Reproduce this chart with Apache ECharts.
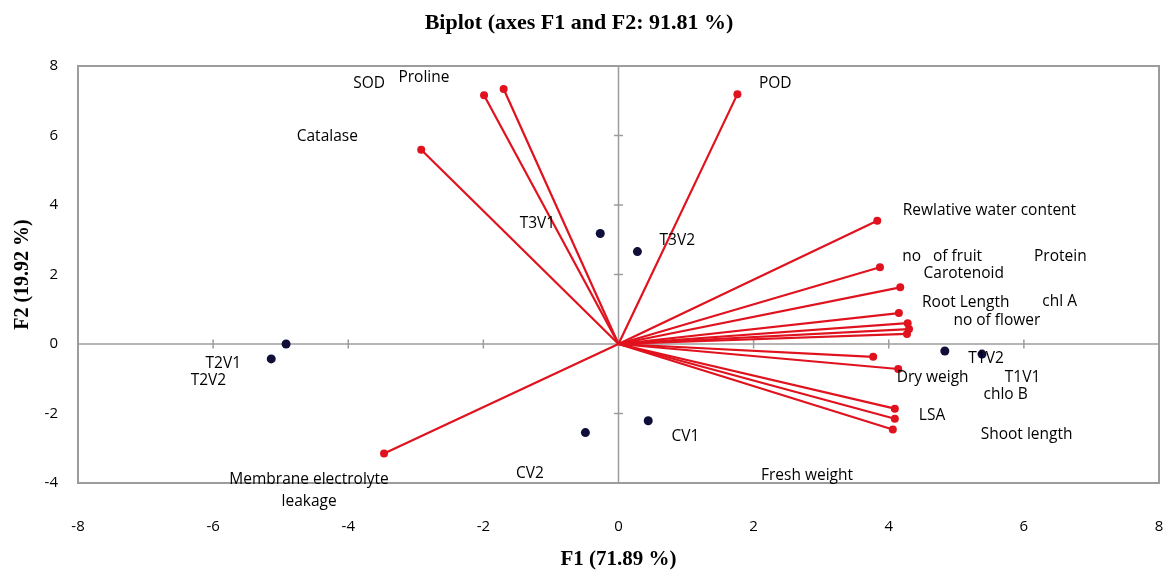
<!DOCTYPE html>
<html>
<head>
<meta charset="utf-8">
<script src="https://cdn.jsdelivr.net/npm/echarts@6/dist/echarts.min.js"></script>
<style>html,body{margin:0;padding:0;background:#fff;}#c{width:1173px;height:575px;}</style>
</head>
<body>
<div id="c"></div>
<script>
// Variable vectors (loadings), F1 / F2
const varNames = ["SOD","Proline","POD","Catalase","Membrane electrolyte leakage",
  "Rewlative water content","no of fruit","Carotenoid","Root Length","Protein","chl A","no of flower",
  "chlo B","Dry weigh","LSA","Shoot length","Fresh weight"];
const varF1 = [-1.99,-1.70,1.76,-2.92,-3.47, 3.83,3.87,4.17,4.15,4.28,4.30,4.27, 3.77,4.14,4.09,4.09,4.06];
const varF2 = [ 7.16, 7.34,7.19, 5.59,-3.15, 3.55,2.21,1.63,0.89,0.60,0.43,0.29,-0.37,-0.72,-1.86,-2.15,-2.46];

// Observations
const obsNames = ["T2V1","T2V2","T3V1","T3V2","CV2","CV1","T1V2","T1V1"];
const obsF1 = [-4.92,-5.14,-0.27,0.28,-0.49,0.44,4.83,5.38];
const obsF2 = [ 0.00,-0.43, 3.18,2.66,-2.55,-2.21,-0.20,-0.29];

// Text annotations as placed in the chart (data coordinates)
const labelText = ["SOD","Proline","Catalase","POD","T3V1","T3V2","Rewlative water content",
  "no   of fruit","Protein","Carotenoid","Root Length","chl A","no of flower","T1V2","Dry weigh",
  "T1V1","chlo B","LSA","Shoot length","Fresh weight","CV1","CV2","Membrane electrolyte\nleakage","T2V1","T2V2"];
const labelX = [-3.69,-2.88,-4.31,2.32,-1.20,0.87,5.49, 4.79,6.54,5.11,5.14,6.53,5.60,5.44,4.65,
  5.98,5.73,4.64,6.04,2.79,0.99,-1.31,-4.58,-5.85,-6.07];
const labelY = [7.48,7.68,5.96,7.48,3.47,2.98,3.84, 2.52,2.52,2.03,1.20,1.23,0.66,-0.43,-0.97,
  -0.97,-1.46,-2.06,-2.61,-3.78,-2.66,-3.72,-4.21,-0.57,-1.06];

// Axis ticks
const xTicks = [-8,-6,-4,-2,0,2,4,6,8];
const yTicks = [-4,-2,0,2,4,6,8];
const xCrossTicks = [-6,-4,-2,2,4,6];
const yCrossTicks = [-2,2,4,6];

const chart = echarts.init(document.getElementById('c'), null, {renderer:'canvas'});
const sans = '"Open Sans", "Liberation Sans", sans-serif';
const serif = '"Liberation Serif", "DejaVu Serif", serif';
const gray = '#9c9c9c';
const red = '#e0121e';

const series = [];
// centre axes
series.push({type:'line', data:[[xTicks[0],0],[xTicks[xTicks.length-1],0]], symbol:'none', silent:true,
  lineStyle:{color:gray, width:1.5}, z:1});
series.push({type:'line', data:[[0,yTicks[0]],[0,yTicks[yTicks.length-1]]], symbol:'none', silent:true,
  lineStyle:{color:gray, width:1.5}, z:1});
series.push({type:'scatter', data:xCrossTicks.map(v=>[v,0]), symbol:'rect', symbolSize:[1.5,9],
  itemStyle:{color:gray, opacity:1}, silent:true, z:1});
series.push({type:'scatter', data:yCrossTicks.map(v=>[0,v]), symbol:'rect', symbolSize:[9,1.5],
  itemStyle:{color:gray, opacity:1}, silent:true, z:1});
// vectors
varNames.forEach((n,i)=>{
  series.push({type:'line', name:n, data:[[0,0],[varF1[i],varF2[i]]], symbol:'none', silent:true,
    lineStyle:{color:red, width:2.2}, z:3});
});
series.push({type:'scatter', data:varNames.map((n,i)=>[varF1[i],varF2[i]]), symbolSize:8,
  itemStyle:{color:red, opacity:1}, z:4});
// observations
series.push({type:'scatter', data:obsNames.map((n,i)=>[obsF1[i],obsF2[i]]), symbolSize:9,
  itemStyle:{color:'#0f0f3a', opacity:1}, z:5});
// text labels
series.push({type:'scatter', clip:false, symbolSize:0, z:6, silent:true,
  itemStyle:{opacity:1},
  data:labelText.map((t,i)=>({value:[labelX[i],labelY[i]], name:t})),
  label:{show:true, position:'inside', formatter:p=>p.name, color:'#000', fontSize:15.5,
    fontFamily:sans, lineHeight:22, align:'center', verticalAlign:'middle'}});

chart.setOption({
  animation:false,
  backgroundColor:'#fff',
  title:{text:'Biplot (axes F1 and F2: 91.81 %)', left:574, top:7, textAlign:'center',
    textStyle:{fontFamily:serif, fontWeight:'bold', fontSize:22, color:'#000'}},
  grid:{left:78, right:14, top:66, bottom:90, show:true, borderColor:gray, borderWidth:2, backgroundColor:'transparent'},
  xAxis:{type:'value', min:-8, max:8, interval:2, name:'F1 (71.89 %)', nameLocation:'middle', nameGap:66,
    nameTextStyle:{fontFamily:serif, fontWeight:'bold', fontSize:21, color:'#000'},
    axisLine:{show:false}, axisTick:{show:false}, splitLine:{show:false},
    axisLabel:{margin:36, fontFamily:sans, fontSize:15, color:'#000'}},
  yAxis:{type:'value', min:-4, max:8, interval:2, name:'F2 (19.92 %)', nameLocation:'middle', nameGap:45,
    nameTextStyle:{fontFamily:serif, fontWeight:'bold', fontSize:20, color:'#000'},
    axisLine:{show:false}, axisTick:{show:false}, splitLine:{show:false},
    axisLabel:{margin:20, fontFamily:sans, fontSize:15, color:'#000'}},
  series:series
});
</script>
</body>
</html>
